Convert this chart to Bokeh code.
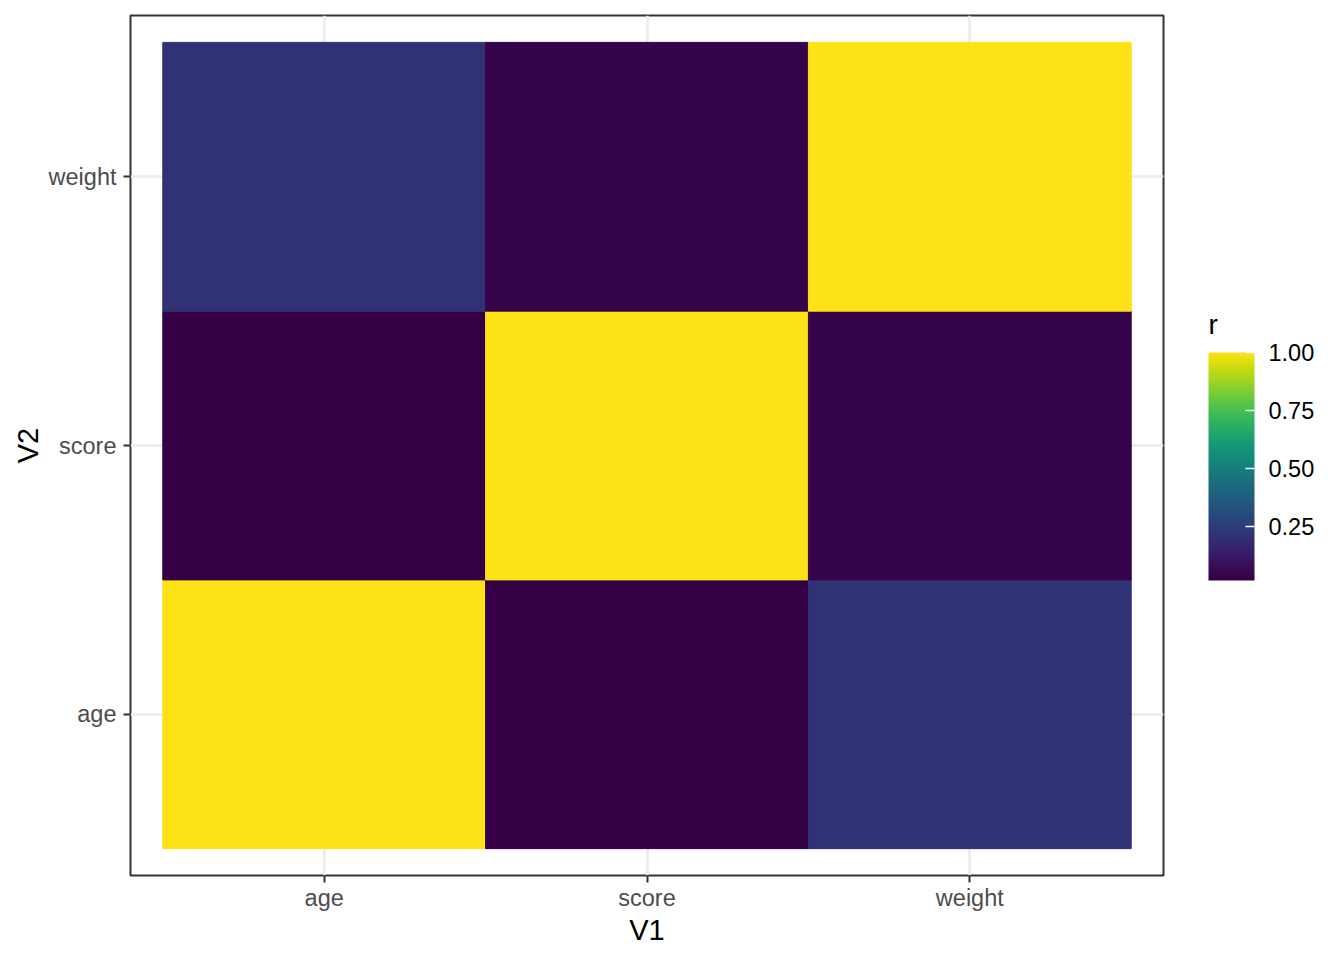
from bokeh.plotting import figure
from bokeh.models import (ColumnDataSource, LinearColorMapper, ColorBar, FixedTicker,
                          PrintfTickFormatter, Label)
from bokeh.palettes import Viridis256
from bokeh.embed import file_html
from bokeh.resources import INLINE

# ---- data ----
variables = ["age", "score", "weight"]
v1 = ["age", "score", "weight", "age", "score", "weight", "age", "score", "weight"]
v2 = ["age", "age", "age", "score", "score", "score", "weight", "weight", "weight"]
r_values = [1.00, 0.02, 0.21, 0.02, 1.00, 0.04, 0.21, 0.04, 1.00]
legend_ticks = [0.25, 0.50, 0.75, 1.00]
legend_title = "r"

pos = {name: i + 1 for i, name in enumerate(variables)}
src = ColumnDataSource(dict(
    x=[pos[a] for a in v1],
    y=[pos[b] for b in v2],
    r=r_values,
))

# slightly darker viridis rendering, as in the reference
def adjust(c, g=1.2):
    rgb = [int(c[i:i + 2], 16) for i in (1, 3, 5)]
    return "#%02x%02x%02x" % tuple(int(round(255 * (v / 255) ** g)) for v in rgb)

palette = [adjust(c) for c in Viridis256]
mapper = LinearColorMapper(palette=palette, low=min(r_values), high=max(r_values))

FONT = "Liberation Sans"

p = figure(width=1336, height=952, output_backend="svg", toolbar_location=None,
           x_range=(0.4, 3.6), y_range=(0.4, 3.6))
p.frame_width = 1033
p.frame_height = 860
p.min_border_left = 130
p.min_border_top = 15
p.min_border_bottom = 77
p.min_border_right = 173
p.background_fill_color = "white"
p.border_fill_color = "white"
p.outline_line_color = "#333333"
p.outline_line_width = 2

p.rect(x="x", y="y", width=1, height=1, source=src,
       fill_color={"field": "r", "transform": mapper},
       line_color={"field": "r", "transform": mapper}, line_width=1)

ticks = [1, 2, 3]
overrides = {i + 1: name for i, name in enumerate(variables)}
for ax in (p.xaxis, p.yaxis):
    ax.ticker = FixedTicker(ticks=ticks)
    ax.major_label_overrides = overrides
    ax.axis_line_color = None
    ax.major_tick_line_color = "#333333"
    ax.major_tick_line_width = 2
    ax.major_tick_out = 7
    ax.major_tick_in = 0
    ax.minor_tick_line_color = None
    ax.major_label_text_font = FONT
    ax.major_label_text_font_size = "23.5px"
    ax.major_label_text_color = "#4d4d4d"
    ax.axis_label_text_font = FONT
    ax.axis_label_text_font_size = "29px"
    ax.axis_label_text_font_style = "normal"
    ax.axis_label_text_color = "black"
p.xaxis.major_label_standoff = 2
p.yaxis.major_label_standoff = 7
p.xaxis.axis_label_standoff = 0
p.yaxis.axis_label_standoff = 2
p.xaxis.axis_label = "V1"
p.yaxis.axis_label = "V2"

for g in (p.xgrid, p.ygrid):
    g.ticker = FixedTicker(ticks=ticks)
    g.grid_line_color = "#ebebeb"
    g.grid_line_width = 2.5

cb = ColorBar(color_mapper=mapper, width=46, height=228,
              ticker=FixedTicker(ticks=legend_ticks),
              formatter=PrintfTickFormatter(format="%.2f"),
              major_label_text_font=FONT, major_label_text_font_size="23.5px",
              major_label_text_color="black", label_standoff=14,
              major_tick_line_color="white", major_tick_line_width=1.5,
              major_tick_in=9, major_tick_out=0,
              bar_line_color=None, background_fill_color=None,
              border_line_color=None, padding=0, margin=0,
              location=(1078, 295))
p.add_layout(cb, "center")

p.add_layout(Label(x=45, y=551, x_units="screen", y_units="screen",
                   text=legend_title, text_font=FONT,
                   text_font_size="28px", text_color="black",
                   text_baseline="alphabetic", text_align="left"), "right")

open("out.html", "w").write(file_html(p, INLINE))
